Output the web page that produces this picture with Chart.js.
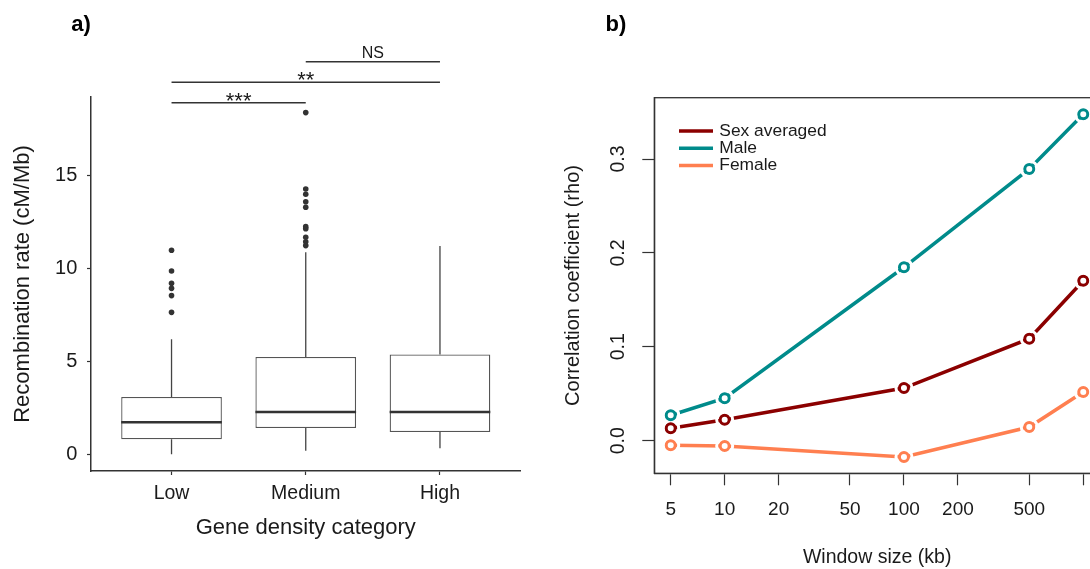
<!DOCTYPE html>
<html>
<head>
<meta charset="utf-8">
<title>Recombination rate and gene density</title>
<script src="https://cdn.jsdelivr.net/npm/chart.js@4.4.1/dist/chart.umd.min.js"></script>
<style>
  html, body { margin: 0; padding: 0; background: #fff; overflow: hidden; }
  #wrap { position: relative; width: 1090px; height: 569px; overflow: hidden; }
  #boxChart { position: absolute; left: 0; top: 0; }
  #rhoChart { position: absolute; left: 545px; top: 0; }
</style>
</head>
<body>
<div id="wrap">
  <canvas id="boxChart" width="545" height="569"></canvas>
  <canvas id="rhoChart" width="565" height="569"></canvas>
</div>
<script>
// a) recombination rate per gene density class (box summaries)
const categories = ["Low", "Medium", "High"];
const whiskerLow = [0, 0.19, 0.32];
const boxQ1 = [0.81, 1.41, 1.2];
const boxMedian = [1.72, 2.27, 2.27];
const boxQ3 = [3.08, 5.23, 5.37];
const whiskerHigh = [6.18, 10.86, 11.2];
const outliersLow = [10.97, 9.85, 9.19, 8.92, 8.53, 7.63];
const outliersMedium = [18.37, 14.26, 13.98, 13.58, 13.28, 12.24, 12.13, 11.67, 11.43, 11.22];
const outliersHigh = [];
const rateTicks = [0, 5, 10, 15];

// pairwise tests drawn above the boxes
const sigFrom = [1, 1, 2];
const sigTo = [2, 3, 3];
const sigLevel = [18.9, 20.0, 21.1];
const sigLabel = ["***", "**", "NS"];

// b) correlation with window size
const windowSizes = [5, 10, 100, 500, 1000];
const sexAveraged = [0.0132, 0.0224, 0.0561, 0.1087, 0.1704];
const male = [0.0271, 0.0452, 0.1847, 0.2894, 0.3476];
const female = [-0.0049, -0.0056, -0.0174, 0.0146, 0.0519];
const windowTicks = [5, 10, 20, 50, 100, 200, 500, 1000];
const windowTickLabels = ["5", "10", "20", "50", "100", "200", "500", ""];
const rhoTicks = [0, 0.1, 0.2, 0.3];
const rhoTickLabels = ["0.0", "0.1", "0.2", "0.3"];

const FONT = "'Liberation Sans', Arial, Helvetica, sans-serif";
const INK = "#1a1a1a";
const AXIS = "#333";

Chart.defaults.font.family = FONT;
Chart.defaults.color = INK;

const panelTag = {
  id: "panelTag",
  afterDraw(chart, args, opts) {
    const ctx = chart.ctx;
    ctx.save();
    ctx.font = "bold 22px " + FONT;
    ctx.fillStyle = "#000";
    ctx.textAlign = "center";
    ctx.textBaseline = "middle";
    ctx.fillText(opts.text, opts.x, opts.y);
    ctx.restore();
  },
};

// whiskers and median lines on top of the floating bars
const boxWhiskers = {
  id: "boxWhiskers",
  afterDatasetsDraw(chart) {
    const ctx = chart.ctx;
    const y = chart.scales.y;
    const meta = chart.getDatasetMeta(0);
    ctx.save();
    meta.data.forEach((bar, i) => {
      const half = bar.width / 2;
      ctx.strokeStyle = "#444";
      ctx.lineWidth = 1.3;
      ctx.beginPath();
      ctx.moveTo(bar.x, y.getPixelForValue(whiskerLow[i]));
      ctx.lineTo(bar.x, y.getPixelForValue(boxQ1[i]));
      ctx.moveTo(bar.x, y.getPixelForValue(boxQ3[i]));
      ctx.lineTo(bar.x, y.getPixelForValue(whiskerHigh[i]));
      ctx.stroke();
      ctx.strokeStyle = "#333";
      ctx.lineWidth = 2.4;
      ctx.beginPath();
      const ym = y.getPixelForValue(boxMedian[i]);
      ctx.moveTo(bar.x - half, ym);
      ctx.lineTo(bar.x + half, ym);
      ctx.stroke();
    });
    ctx.restore();
  },
};

const sigBrackets = {
  id: "sigBrackets",
  afterDraw(chart) {
    const ctx = chart.ctx;
    const xs = chart.scales.x;
    const ys = chart.scales.y;
    ctx.save();
    ctx.strokeStyle = "#333";
    ctx.fillStyle = INK;
    ctx.lineWidth = 1.5;
    ctx.textAlign = "center";
    ctx.textBaseline = "alphabetic";
    sigFrom.forEach((from, i) => {
      const x1 = xs.getPixelForValue(from);
      const x2 = xs.getPixelForValue(sigTo[i]);
      const yy = ys.getPixelForValue(sigLevel[i]);
      ctx.beginPath();
      ctx.moveTo(x1, yy);
      ctx.lineTo(x2, yy);
      ctx.stroke();
      const stars = /^\*+$/.test(sigLabel[i]);
      ctx.font = (stars ? "22px " : "16px ") + FONT;
      ctx.fillText(sigLabel[i], (x1 + x2) / 2, stars ? yy + 5 : yy - 4);
    });
    ctx.restore();
  },
};

const outlierPoints = [];
[outliersLow, outliersMedium, outliersHigh].forEach((list, i) => {
  list.forEach((v) => outlierPoints.push({ x: i + 1, y: v }));
});

new Chart(document.getElementById("boxChart"), {
  type: "bar",
  data: {
    datasets: [
      {
        type: "bar",
        data: categories.map((c, i) => ({ x: i + 1, y: [boxQ1[i], boxQ3[i]] })),
        backgroundColor: "#fff",
        borderColor: "#555",
        borderWidth: 1.3,
        borderSkipped: false,
        categoryPercentage: 1,
        barPercentage: 0.75,
      },
      {
        type: "scatter",
        data: outlierPoints,
        pointRadius: 2.8,
        pointBorderWidth: 0,
        pointBackgroundColor: "#333",
      },
    ],
  },
  options: {
    responsive: false,
    animation: false,
    devicePixelRatio: 1,
    events: [],
    layout: { padding: { top: 97, right: 24.5, left: 0, bottom: 0 } },
    plugins: {
      legend: { display: false },
      tooltip: { enabled: false },
      panelTag: { text: "a)", x: 81, y: 25 },
    },
    scales: {
      x: {
        type: "linear",
        min: 0.4,
        max: 3.6,
        offset: false,
        afterBuildTicks: (s) => { s.ticks = categories.map((c, i) => ({ value: i + 1 })); },
        afterFit: (s) => { s.height = 98; },
        ticks: {
          callback: (v, i) => categories[i],
          font: { size: 19.5 },
          color: INK,
          padding: 7,
          autoSkip: false,
          maxRotation: 0,
        },
        grid: { offset: false, drawOnChartArea: false, tickLength: 4, color: AXIS, tickWidth: 1.2 },
        border: { display: true, color: AXIS, width: 1.5 },
        title: {
          display: true,
          text: "Gene density category",
          font: { size: 22 },
          color: INK,
          padding: { top: 0, bottom: 28 },
        },
      },
      y: {
        type: "linear",
        min: -0.9,
        max: 19.21,
        afterBuildTicks: (s) => { s.ticks = rateTicks.map((v) => ({ value: v })); },
        afterFit: (s) => { s.width = 91; },
        ticks: { font: { size: 20 }, color: INK, padding: 9.7 },
        grid: { drawOnChartArea: false, tickLength: 4, color: AXIS, tickWidth: 1.2 },
        border: { display: true, color: AXIS, width: 1.5 },
        title: {
          display: true,
          text: "Recombination rate (cM/Mb)",
          font: { size: 22 },
          color: INK,
          padding: { top: 10, bottom: 0 },
        },
      },
    },
  },
  plugins: [boxWhiskers, sigBrackets, panelTag],
});

// lines stop short of the open circles
const pointGaps = {
  id: "pointGaps",
  beforeDatasetDraw(chart, args) {
    const ctx = chart.ctx;
    ctx.save();
    ctx.beginPath();
    ctx.rect(0, 0, chart.width, chart.height);
    args.meta.data.forEach((pt) => {
      ctx.moveTo(pt.x + 9.5, pt.y);
      ctx.arc(pt.x, pt.y, 9.5, 0, Math.PI * 2);
      ctx.moveTo(pt.x + 6.5, pt.y);
      ctx.arc(pt.x, pt.y, 6.5, 0, Math.PI * 2);
    });
    ctx.clip("evenodd");
  },
  afterDatasetDraw(chart) {
    chart.ctx.restore();
  },
};

const frameAndLegend = {
  id: "frameAndLegend",
  afterDraw(chart) {
    const ctx = chart.ctx;
    const a = chart.chartArea;
    ctx.save();
    ctx.strokeStyle = AXIS;
    ctx.lineWidth = 1.3;
    ctx.strokeRect(a.left, a.top, a.right - a.left, a.bottom - a.top);

    // y tick labels read upward, as in base R
    const ys = chart.scales.y;
    ctx.font = "19.5px " + FONT;
    ctx.fillStyle = INK;
    ctx.textAlign = "center";
    ctx.textBaseline = "middle";
    ys.ticks.forEach((t, i) => {
      ctx.save();
      ctx.translate(a.left - 36, ys.getPixelForValue(t.value));
      ctx.rotate(-Math.PI / 2);
      ctx.fillText(rhoTickLabels[i], 0, 0);
      ctx.restore();
    });

    ctx.font = "17.4px " + FONT;
    ctx.textAlign = "left";
    chart.data.datasets.forEach((ds, i) => {
      const y = a.top + 33.3 + i * 17.2;
      ctx.strokeStyle = ds.borderColor;
      ctx.lineWidth = 3.5;
      ctx.beginPath();
      ctx.moveTo(a.left + 24.7, y);
      ctx.lineTo(a.left + 58.7, y);
      ctx.stroke();
      ctx.fillStyle = INK;
      ctx.fillText(ds.label, a.left + 65, y);
    });
    ctx.restore();
  },
};

const series = [
  { label: "Sex averaged", values: sexAveraged, color: "#8b0000" },
  { label: "Male", values: male, color: "#008b8b" },
  { label: "Female", values: female, color: "#ff7f50" },
];

new Chart(document.getElementById("rhoChart"), {
  type: "line",
  data: {
    datasets: series.map((s) => ({
      label: s.label,
      data: windowSizes.map((w, i) => ({ x: w, y: s.values[i] })),
      borderColor: s.color,
      borderWidth: 3.5,
      pointRadius: 4.5,
      pointBorderWidth: 3,
      pointBorderColor: s.color,
      pointBackgroundColor: "#fff",
      tension: 0,
      fill: false,
    })),
  },
  options: {
    responsive: false,
    animation: false,
    devicePixelRatio: 1,
    events: [],
    layout: { padding: { top: 97.7, right: 10, left: 0, bottom: 0 } },
    plugins: {
      legend: { display: false },
      tooltip: { enabled: false },
      panelTag: { text: "b)", x: 71, y: 25 },
    },
    scales: {
      x: {
        type: "logarithmic",
        min: 4.05,
        max: 1240,
        afterBuildTicks: (s) => { s.ticks = windowTicks.map((v) => ({ value: v })); },
        afterFit: (s) => { s.height = 95.7; },
        ticks: {
          callback: (v, i) => windowTickLabels[i],
          font: { size: 19 },
          color: INK,
          padding: 13,
          autoSkip: false,
          maxRotation: 0,
        },
        grid: { drawOnChartArea: false, tickLength: 12, color: AXIS, tickWidth: 1.2 },
        border: { display: true, color: AXIS, width: 1.3 },
        title: {
          display: true,
          text: "Window size (kb)",
          font: { size: 19.5 },
          color: INK,
          padding: { top: 0, bottom: 0 },
        },
      },
      y: {
        type: "linear",
        min: -0.0347,
        max: 0.3653,
        afterBuildTicks: (s) => { s.ticks = rhoTicks.map((v) => ({ value: v })); },
        afterFit: (s) => { s.width = 109.3; },
        ticks: { display: false },
        grid: { drawOnChartArea: false, tickLength: 12, color: AXIS, tickWidth: 1.2 },
        border: { display: true, color: AXIS, width: 1.3 },
        title: {
          display: true,
          text: "Correlation coefficient (rho)",
          font: { size: 20 },
          color: INK,
          padding: { top: 16, bottom: 0 },
        },
      },
    },
  },
  plugins: [pointGaps, frameAndLegend, panelTag],
});
</script>
</body>
</html>
